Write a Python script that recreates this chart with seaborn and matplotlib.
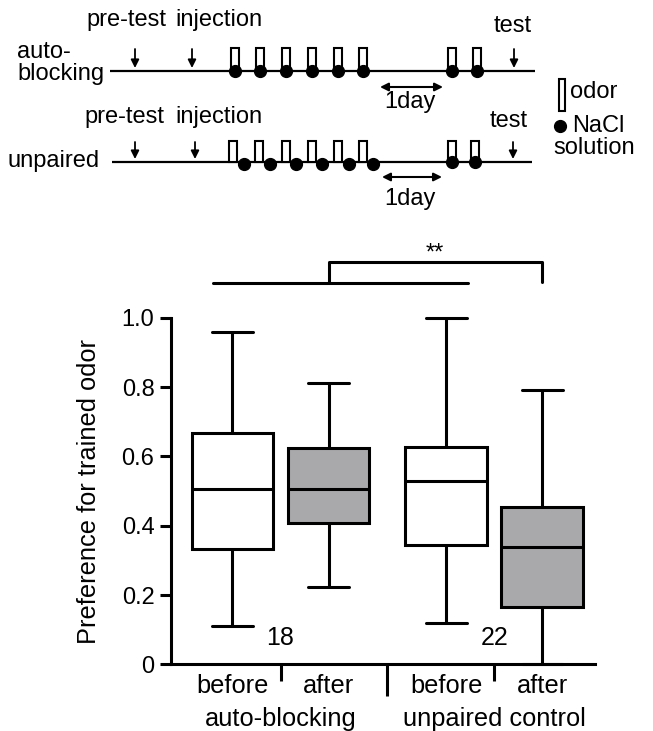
import matplotlib
matplotlib.use("Agg")
import matplotlib.pyplot as plt
from matplotlib.patches import Rectangle
import pandas as pd
import seaborn as sns

# box summaries: min, q1, median, q3, max
groups = ["auto-blocking", "unpaired control"]
phases = ["before", "after"]
ab_before = [0.112, 0.332, 0.505, 0.668, 0.958]
ab_after = [0.224, 0.407, 0.505, 0.623, 0.812]
up_before = [0.118, 0.344, 0.529, 0.626, 1.0]
up_after = [0.0, 0.166, 0.338, 0.453, 0.791]
n_labels = ["18", "22"]
yticks = [0, 0.2, 0.4, 0.6, 0.8, 1.0]
ytick_labels = ["0", "0.2", "0.4", "0.6", "0.8", "1.0"]

rows = []
for g, ph, vals in [(groups[0], "before", ab_before), (groups[0], "after", ab_after),
                    (groups[1], "before", up_before), (groups[1], "after", up_after)]:
    for v in vals:
        rows.append({"group": g, "phase": ph, "value": v})
df = pd.DataFrame(rows)

sns.set_style("ticks")
plt.rcParams["font.family"] = ["Liberation Sans", "DejaVu Sans"]
plt.rcParams["text.color"] = "black"
plt.rcParams["axes.labelcolor"] = "black"
plt.rcParams["xtick.color"] = "black"
plt.rcParams["ytick.color"] = "black"
plt.rcParams["axes.edgecolor"] = "black"

FS = 17      # schematic text
FB = 18.3    # box plot text
GRAY = "#a8a9ac"
LW = 2.2

fig = plt.figure(figsize=(6.53, 7.31), dpi=100)

# ---- schematic (pixel coordinates) ----
ax0 = fig.add_axes([0, 0, 1, 1])
ax0.set_xlim(0, 653)
ax0.set_ylim(731, 0)
ax0.axis("off")

line_y = [71, 162]
line_x = [(110, 535), (112, 532)]
odor_x = [[235, 260, 286, 312, 338, 363, 452, 477],
          [233, 259, 286, 312, 338, 363, 452, 475]]
odor_top = [48, 141]
nacl_x = [[235, 260, 286, 312, 338, 363, 452, 477],
          [244, 270, 296, 322, 349, 373, 452, 475]]
nacl_dy = [[0] * 8, [2, 2, 2, 2, 2, 2, 0, 0]]
arrow_x = [[135, 192, 514], [135, 195, 513]]
arrow_top = [49, 142]
day_arrow = [(380, 443, 87), (382, 442, 177)]
day_text = [(410, 108), (410, 205)]

for r in range(2):
    ax0.plot(line_x[r], [line_y[r]] * 2, color="k", lw=1.6, solid_capstyle="butt")
    for x in odor_x[r]:
        ax0.add_patch(Rectangle((x - 4, odor_top[r]), 8, line_y[r] - odor_top[r],
                                facecolor="white", edgecolor="k", lw=1.5, zorder=3))
    ax0.plot(nacl_x[r], [line_y[r] + d for d in nacl_dy[r]], "o", color="k", ms=8.5, zorder=4)
    for x in arrow_x[r]:
        ax0.annotate("", xy=(x, line_y[r] - 3), xytext=(x, arrow_top[r]),
                     arrowprops=dict(arrowstyle="-|>", color="k", lw=1.3, mutation_scale=12,
                                     shrinkA=0, shrinkB=0))
    x1, x2, yy = day_arrow[r]
    ax0.annotate("", xy=(x2, yy), xytext=(x1, yy),
                 arrowprops=dict(arrowstyle="<|-|>", color="k", lw=1.5, mutation_scale=12,
                                 shrinkA=0, shrinkB=0))
    ax0.text(day_text[r][0], day_text[r][1], "1day", fontsize=FS, ha="center", va="baseline")

ax0.text(126, 26, "pre-test", fontsize=FS, ha="center", va="baseline")
ax0.text(219, 26, "injection", fontsize=FS, ha="center", va="baseline")
ax0.text(513, 32, "test", fontsize=FS, ha="center", va="baseline")
ax0.text(17, 58, "auto-", fontsize=FS, ha="left", va="baseline")
ax0.text(17, 80, "blocking", fontsize=FS, ha="left", va="baseline")
ax0.text(124, 123, "pre-test", fontsize=FS, ha="center", va="baseline")
ax0.text(219, 123, "injection", fontsize=FS, ha="center", va="baseline")
ax0.text(509, 127, "test", fontsize=FS, ha="center", va="baseline")
ax0.text(100, 167, "unpaired", fontsize=FS, ha="right", va="baseline")

# legend of schematic
ax0.add_patch(Rectangle((559, 79), 6, 32, facecolor="white", edgecolor="k", lw=1.5))
ax0.text(570, 98, "odor", fontsize=FS, ha="left", va="baseline")
ax0.plot([560], [126], "o", color="k", ms=8.5)
ax0.text(572, 132, "NaCl", fontsize=FS, ha="left", va="baseline")
ax0.text(553, 154, "solution", fontsize=FS, ha="left", va="baseline")

# ---- box plot ----
ax = fig.add_axes([0.2614, 0.0912, 0.6498, 0.4742])
sns.boxplot(data=df, x="group", y="value", hue="phase", hue_order=phases, order=groups,
            palette={"before": "white", "after": GRAY}, width=0.9, gap=0.15,
            linecolor="black", linewidth=LW, whis=(0, 100), legend=False, ax=ax)
for a in ax.lines + ax.patches:
    a.set_clip_on(False)

ax.set_xlim(-0.514, 1.472)
ax.set_ylim(0, 1)
ax.set_yticks(yticks)
ax.set_yticklabels(ytick_labels)
ax.set_xlabel("")
ax.set_ylabel("Preference for trained odor", fontsize=FB, labelpad=15)
for s in ["top", "right"]:
    ax.spines[s].set_visible(False)
for s in ["left", "bottom"]:
    ax.spines[s].set_linewidth(LW)
ax.tick_params(axis="y", length=7.7, width=LW, pad=4, labelsize=17)
ax.set_xticks([0, 1])
ax.set_xticklabels(["", ""])
ax.set_xticks([0.5], minor=True)
ax.tick_params(axis="x", which="major", length=12.5, width=LW)
ax.tick_params(axis="x", which="minor", length=23, width=LW)

trans = ax.get_xaxis_transform()
for i, g in enumerate(groups):
    for j, ph in enumerate(phases):
        ax.text(i - 0.225 + 0.45 * j, -0.083, ph, transform=trans, fontsize=FB,
                ha="center", va="baseline")
    ax.text(i, -0.178, g, transform=trans, fontsize=FB, ha="center", va="baseline")
    ax.text(i, 0.076, n_labels[i], fontsize=18, ha="center", va="center")

# significance bracket
ax.plot([-0.316, 0.879], [1.10, 1.10], color="k", lw=LW, clip_on=False)
ax.plot([0.225, 0.225, 1.225, 1.225], [1.10, 1.161, 1.161, 1.103], color="k", lw=LW,
        clip_on=False)
ax.text(0.724, 1.168, "**", fontsize=FS, ha="center", va="baseline")

fig.savefig("out.png", dpi=100)
